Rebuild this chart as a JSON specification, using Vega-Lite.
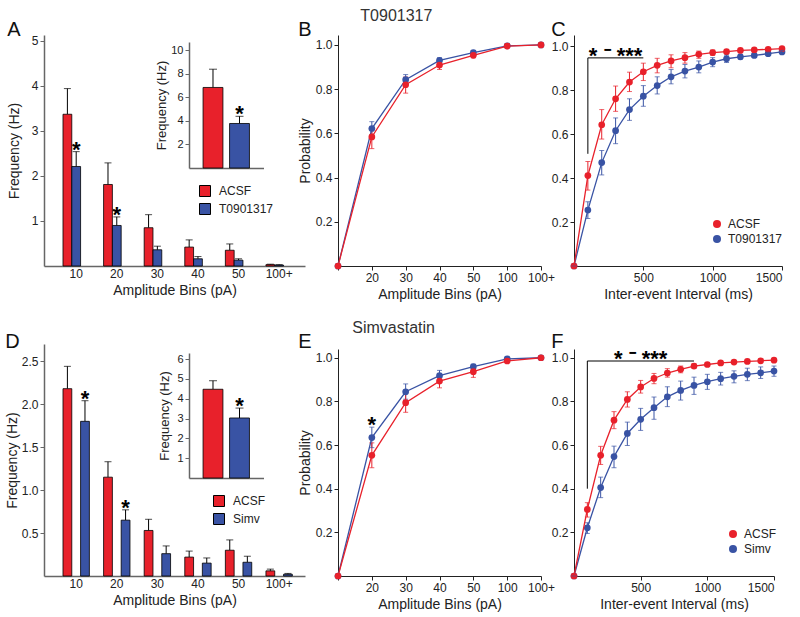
{
  "$schema": "https://vega.github.io/schema/vega-lite/v6.json",
  "padding": {"left": 5, "top": 7, "right": 5, "bottom": 5},
  "background": "white",
  "config": {
    "font": "Liberation Sans",
    "view": {"stroke": null},
    "axis": {"grid": false, "labelFontSize": 12, "titleFontSize": 14, "titleFontWeight": "normal", "labelColor": "#222", "titleColor": "#222", "domainColor": "#222", "tickColor": "#222", "tickSize": 4, "labelPadding": 2},
    "legend": {"labelFontSize": 12, "padding": 0, "labelColor": "#222"},
    "title": {"fontWeight": "normal", "color": "#111"}
  },
  "datasets": {
    "A": [
      {"bin": "10", "group": "ACSF", "value": 3.37, "err": 3.94, "sig": ""},
      {"bin": "10", "group": "T0901317", "value": 2.21, "err": 2.54, "sig": "*"},
      {"bin": "20", "group": "ACSF", "value": 1.81, "err": 2.29, "sig": ""},
      {"bin": "20", "group": "T0901317", "value": 0.9, "err": 1.09, "sig": "*"},
      {"bin": "30", "group": "ACSF", "value": 0.85, "err": 1.14, "sig": ""},
      {"bin": "30", "group": "T0901317", "value": 0.36, "err": 0.44, "sig": ""},
      {"bin": "40", "group": "ACSF", "value": 0.42, "err": 0.58, "sig": ""},
      {"bin": "40", "group": "T0901317", "value": 0.16, "err": 0.21, "sig": ""},
      {"bin": "50", "group": "ACSF", "value": 0.35, "err": 0.49, "sig": ""},
      {"bin": "50", "group": "T0901317", "value": 0.13, "err": 0.16, "sig": ""},
      {"bin": "100+", "group": "ACSF", "value": 0.03, "err": 0.04, "sig": ""},
      {"bin": "100+", "group": "T0901317", "value": 0.02, "err": 0.03, "sig": ""}
    ],
    "Ai": [
      {"group": "ACSF", "value": 6.84, "err": 8.39, "sig": ""},
      {"group": "T0901317", "value": 3.78, "err": 4.39, "sig": "*"}
    ],
    "D": [
      {"bin": "10", "group": "ACSF", "value": 2.18, "err": 2.44, "sig": ""},
      {"bin": "10", "group": "Simv", "value": 1.8, "err": 2.04, "sig": "*"},
      {"bin": "20", "group": "ACSF", "value": 1.15, "err": 1.33, "sig": ""},
      {"bin": "20", "group": "Simv", "value": 0.65, "err": 0.77, "sig": "*"},
      {"bin": "30", "group": "ACSF", "value": 0.53, "err": 0.66, "sig": ""},
      {"bin": "30", "group": "Simv", "value": 0.26, "err": 0.35, "sig": ""},
      {"bin": "40", "group": "ACSF", "value": 0.22, "err": 0.29, "sig": ""},
      {"bin": "40", "group": "Simv", "value": 0.15, "err": 0.21, "sig": ""},
      {"bin": "50", "group": "ACSF", "value": 0.3, "err": 0.42, "sig": ""},
      {"bin": "50", "group": "Simv", "value": 0.16, "err": 0.23, "sig": ""},
      {"bin": "100+", "group": "ACSF", "value": 0.06, "err": 0.08, "sig": ""},
      {"bin": "100+", "group": "Simv", "value": 0.02, "err": 0.03, "sig": ""}
    ],
    "Di": [
      {"group": "ACSF", "value": 4.48, "err": 4.91, "sig": ""},
      {"group": "Simv", "value": 3.03, "err": 3.53, "sig": "*"}
    ],
    "B": [
      {"bin": "0", "group": "T0901317", "value": 0, "lo": 0, "hi": 0},
      {"bin": "20", "group": "T0901317", "value": 0.622, "lo": 0.59, "hi": 0.653},
      {"bin": "30", "group": "T0901317", "value": 0.843, "lo": 0.82, "hi": 0.866},
      {"bin": "40", "group": "T0901317", "value": 0.93, "lo": 0.918, "hi": 0.942},
      {"bin": "50", "group": "T0901317", "value": 0.965, "lo": 0.958, "hi": 0.974},
      {"bin": "100", "group": "T0901317", "value": 0.996, "lo": 0.993, "hi": 0.999},
      {"bin": "100+", "group": "T0901317", "value": 1, "lo": 1, "hi": 1},
      {"bin": "0", "group": "ACSF", "value": 0, "lo": 0, "hi": 0},
      {"bin": "20", "group": "ACSF", "value": 0.584, "lo": 0.531, "hi": 0.625},
      {"bin": "30", "group": "ACSF", "value": 0.82, "lo": 0.782, "hi": 0.855},
      {"bin": "40", "group": "ACSF", "value": 0.909, "lo": 0.889, "hi": 0.928},
      {"bin": "50", "group": "ACSF", "value": 0.953, "lo": 0.942, "hi": 0.963},
      {"bin": "100", "group": "ACSF", "value": 0.995, "lo": 0.992, "hi": 0.998},
      {"bin": "100+", "group": "ACSF", "value": 1, "lo": 1, "hi": 1}
    ],
    "E": [
      {"bin": "0", "group": "Simv", "value": 0, "lo": 0, "hi": 0, "sig": ""},
      {"bin": "20", "group": "Simv", "value": 0.634, "lo": 0.588, "hi": 0.682, "sig": "*"},
      {"bin": "30", "group": "Simv", "value": 0.844, "lo": 0.81, "hi": 0.88, "sig": ""},
      {"bin": "40", "group": "Simv", "value": 0.918, "lo": 0.896, "hi": 0.942, "sig": ""},
      {"bin": "50", "group": "Simv", "value": 0.959, "lo": 0.947, "hi": 0.97, "sig": ""},
      {"bin": "100", "group": "Simv", "value": 0.995, "lo": 0.991, "hi": 0.999, "sig": ""},
      {"bin": "100+", "group": "Simv", "value": 1, "lo": 1, "hi": 1, "sig": ""},
      {"bin": "0", "group": "ACSF", "value": 0, "lo": 0, "hi": 0, "sig": ""},
      {"bin": "20", "group": "ACSF", "value": 0.553, "lo": 0.496, "hi": 0.61, "sig": ""},
      {"bin": "30", "group": "ACSF", "value": 0.794, "lo": 0.75, "hi": 0.84, "sig": ""},
      {"bin": "40", "group": "ACSF", "value": 0.893, "lo": 0.862, "hi": 0.92, "sig": ""},
      {"bin": "50", "group": "ACSF", "value": 0.936, "lo": 0.91, "hi": 0.957, "sig": ""},
      {"bin": "100", "group": "ACSF", "value": 0.985, "lo": 0.978, "hi": 0.99, "sig": ""},
      {"bin": "100+", "group": "ACSF", "value": 1, "lo": 1, "hi": 1, "sig": ""}
    ],
    "C": [
      {"t": 0, "group": "T0901317", "value": 0, "lo": 0, "hi": 0},
      {"t": 100, "group": "T0901317", "value": 0.254, "lo": 0.216, "hi": 0.292},
      {"t": 200, "group": "T0901317", "value": 0.47, "lo": 0.414, "hi": 0.525},
      {"t": 300, "group": "T0901317", "value": 0.615, "lo": 0.556, "hi": 0.673},
      {"t": 400, "group": "T0901317", "value": 0.711, "lo": 0.662, "hi": 0.76},
      {"t": 500, "group": "T0901317", "value": 0.772, "lo": 0.726, "hi": 0.82},
      {"t": 600, "group": "T0901317", "value": 0.82, "lo": 0.782, "hi": 0.86},
      {"t": 700, "group": "T0901317", "value": 0.86, "lo": 0.828, "hi": 0.893},
      {"t": 800, "group": "T0901317", "value": 0.886, "lo": 0.855, "hi": 0.916},
      {"t": 900, "group": "T0901317", "value": 0.904, "lo": 0.878, "hi": 0.932},
      {"t": 1000, "group": "T0901317", "value": 0.927, "lo": 0.906, "hi": 0.947},
      {"t": 1100, "group": "T0901317", "value": 0.942, "lo": 0.925, "hi": 0.958},
      {"t": 1200, "group": "T0901317", "value": 0.951, "lo": 0.94, "hi": 0.962},
      {"t": 1300, "group": "T0901317", "value": 0.957, "lo": 0.948, "hi": 0.966},
      {"t": 1400, "group": "T0901317", "value": 0.965, "lo": 0.958, "hi": 0.972},
      {"t": 1500, "group": "T0901317", "value": 0.973, "lo": 0.966, "hi": 0.98},
      {"t": 0, "group": "ACSF", "value": 0, "lo": 0, "hi": 0},
      {"t": 100, "group": "ACSF", "value": 0.411, "lo": 0.345, "hi": 0.475},
      {"t": 200, "group": "ACSF", "value": 0.642, "lo": 0.577, "hi": 0.711},
      {"t": 300, "group": "ACSF", "value": 0.76, "lo": 0.703, "hi": 0.818},
      {"t": 400, "group": "ACSF", "value": 0.836, "lo": 0.793, "hi": 0.881},
      {"t": 500, "group": "ACSF", "value": 0.883, "lo": 0.843, "hi": 0.922},
      {"t": 600, "group": "ACSF", "value": 0.912, "lo": 0.878, "hi": 0.944},
      {"t": 700, "group": "ACSF", "value": 0.932, "lo": 0.901, "hi": 0.96},
      {"t": 800, "group": "ACSF", "value": 0.947, "lo": 0.922, "hi": 0.97},
      {"t": 900, "group": "ACSF", "value": 0.962, "lo": 0.944, "hi": 0.977},
      {"t": 1000, "group": "ACSF", "value": 0.97, "lo": 0.957, "hi": 0.982},
      {"t": 1100, "group": "ACSF", "value": 0.974, "lo": 0.965, "hi": 0.983},
      {"t": 1200, "group": "ACSF", "value": 0.98, "lo": 0.973, "hi": 0.987},
      {"t": 1300, "group": "ACSF", "value": 0.982, "lo": 0.976, "hi": 0.988},
      {"t": 1400, "group": "ACSF", "value": 0.985, "lo": 0.979, "hi": 0.99},
      {"t": 1500, "group": "ACSF", "value": 0.988, "lo": 0.982, "hi": 0.993}
    ],
    "F": [
      {"t": 0, "group": "Simv", "value": 0, "lo": 0, "hi": 0},
      {"t": 100, "group": "Simv", "value": 0.221, "lo": 0.195, "hi": 0.244},
      {"t": 200, "group": "Simv", "value": 0.405, "lo": 0.359, "hi": 0.453},
      {"t": 300, "group": "Simv", "value": 0.547, "lo": 0.496, "hi": 0.595},
      {"t": 400, "group": "Simv", "value": 0.653, "lo": 0.598, "hi": 0.705},
      {"t": 500, "group": "Simv", "value": 0.718, "lo": 0.667, "hi": 0.768},
      {"t": 600, "group": "Simv", "value": 0.771, "lo": 0.718, "hi": 0.82},
      {"t": 700, "group": "Simv", "value": 0.821, "lo": 0.776, "hi": 0.867},
      {"t": 800, "group": "Simv", "value": 0.85, "lo": 0.806, "hi": 0.893},
      {"t": 900, "group": "Simv", "value": 0.873, "lo": 0.832, "hi": 0.911},
      {"t": 1000, "group": "Simv", "value": 0.89, "lo": 0.855, "hi": 0.924},
      {"t": 1100, "group": "Simv", "value": 0.904, "lo": 0.875, "hi": 0.933},
      {"t": 1200, "group": "Simv", "value": 0.915, "lo": 0.885, "hi": 0.94},
      {"t": 1300, "group": "Simv", "value": 0.924, "lo": 0.895, "hi": 0.952},
      {"t": 1400, "group": "Simv", "value": 0.931, "lo": 0.905, "hi": 0.958},
      {"t": 1500, "group": "Simv", "value": 0.939, "lo": 0.915, "hi": 0.962},
      {"t": 0, "group": "ACSF", "value": 0, "lo": 0, "hi": 0},
      {"t": 100, "group": "ACSF", "value": 0.305, "lo": 0.27, "hi": 0.336},
      {"t": 200, "group": "ACSF", "value": 0.553, "lo": 0.511, "hi": 0.594},
      {"t": 300, "group": "ACSF", "value": 0.714, "lo": 0.675, "hi": 0.753},
      {"t": 400, "group": "ACSF", "value": 0.809, "lo": 0.774, "hi": 0.844},
      {"t": 500, "group": "ACSF", "value": 0.866, "lo": 0.838, "hi": 0.896},
      {"t": 600, "group": "ACSF", "value": 0.905, "lo": 0.881, "hi": 0.928},
      {"t": 700, "group": "ACSF", "value": 0.93, "lo": 0.911, "hi": 0.95},
      {"t": 800, "group": "ACSF", "value": 0.947, "lo": 0.931, "hi": 0.962},
      {"t": 900, "group": "ACSF", "value": 0.962, "lo": 0.951, "hi": 0.972},
      {"t": 1000, "group": "ACSF", "value": 0.969, "lo": 0.96, "hi": 0.977},
      {"t": 1100, "group": "ACSF", "value": 0.976, "lo": 0.968, "hi": 0.983},
      {"t": 1200, "group": "ACSF", "value": 0.98, "lo": 0.973, "hi": 0.987},
      {"t": 1300, "group": "ACSF", "value": 0.983, "lo": 0.977, "hi": 0.989},
      {"t": 1400, "group": "ACSF", "value": 0.986, "lo": 0.98, "hi": 0.991},
      {"t": 1500, "group": "ACSF", "value": 0.989, "lo": 0.984, "hi": 0.994}
    ],
    "Cbr": [
      {"x": 100, "x2": 100, "y": 0.51, "y2": 0.946},
      {"x": 100, "x2": 500, "y": 0.946, "y2": 0.946}
    ],
    "Ctx": [{"x": 300, "y": 0.946, "label": "* ⁻ ***"}],
    "Fbr": [
      {"x": 100, "x2": 100, "y": 0.4, "y2": 0.985},
      {"x": 100, "x2": 900, "y": 0.985, "y2": 0.985}
    ],
    "Ftx": [{"x": 500, "y": 0.985, "label": "* ⁻ ***"}]
  },
  "spacing": 19,
  "resolve": {"scale": {"color": "independent"}, "legend": {"color": "independent"}},
  "vconcat": [
    {
      "title": {"text": "T0901317", "fontSize": 16, "color": "#333", "anchor": "middle", "offset": -4},
      "spacing": 33,
      "bounds": "flush",
      "resolve": {"scale": {"color": "independent"}, "legend": {"color": "independent"}},
      "hconcat": [
        {
          "width": 261, "height": 231,
          "title": {"text": "A", "anchor": "start", "fontSize": 20, "offset": -5},
          "resolve": {"scale": {"x": "independent", "y": "independent"}, "axis": {"x": "independent", "y": "independent"}},
          "layer": [
            {
              "data": {"name": "A"},
              "encoding": {
                "x": {"field": "bin", "type": "nominal", "sort": ["10", "20", "30", "40", "50", "100+"], "scale": {"paddingInner": 0.35, "paddingOuter": 0.39, "align": 0.6}, "axis": {"title": "Amplitude Bins (pA)", "labelAngle": 0, "ticks": false, "domainColor": "#666", "domainWidth": 1.5}},
                "xOffset": {"field": "group", "type": "nominal", "sort": ["ACSF", "T0901317"]}
              },
              "layer": [
                {"mark": {"type": "rule", "color": "black", "strokeWidth": 1},
                 "encoding": {"y": {"field": "value", "type": "quantitative", "title": "Frequency (Hz)", "scale": {"domain": [0, 5.13], "nice": false}, "axis": {"values": [1, 2, 3, 4, 5], "format": "d", "titlePadding": 10, "domainColor": "#666", "domainWidth": 1.5, "tickColor": "#666"}}, "y2": {"field": "err"}}},
                {"mark": {"type": "tick", "orient": "horizontal", "size": 7, "thickness": 1, "color": "black"},
                 "encoding": {"y": {"field": "err", "type": "quantitative", "title": "Frequency (Hz)", "scale": {"domain": [0, 5.13], "nice": false}, "axis": {"values": [1, 2, 3, 4, 5], "format": "d", "titlePadding": 10, "domainColor": "#666", "domainWidth": 1.5, "tickColor": "#666"}}}},
                {"mark": {"type": "bar", "stroke": "black", "strokeWidth": 0.8},
                 "encoding": {
                   "y": {"field": "value", "type": "quantitative", "title": "Frequency (Hz)", "scale": {"domain": [0, 5.13], "nice": false}, "axis": {"values": [1, 2, 3, 4, 5], "format": "d", "titlePadding": 10, "domainColor": "#666", "domainWidth": 1.5, "tickColor": "#666"}},
                   "color": {"field": "group", "type": "nominal", "scale": {"domain": ["ACSF", "T0901317"], "range": ["#E8212B", "#3953A4"]}, "legend": {"orient": "none", "legendX": 155, "legendY": 150, "title": null, "symbolType": "square", "symbolSize": 121, "symbolStrokeColor": "black", "symbolStrokeWidth": 1, "labelFontSize": 12, "labelOffset": 8, "rowPadding": 2}}
                 }},
                {"mark": {"type": "text", "fontSize": 22, "fontWeight": "bold", "baseline": "alphabetic", "dy": 5, "color": "black"},
                 "encoding": {"y": {"field": "err", "type": "quantitative", "title": "Frequency (Hz)", "scale": {"domain": [0, 5.13], "nice": false}, "axis": {"values": [1, 2, 3, 4, 5], "format": "d", "titlePadding": 10, "domainColor": "#666", "domainWidth": 1.5, "tickColor": "#666"}}, "text": {"field": "sig"}}}
              ]
            },
            {
              "data": {"name": "Ai"},
              "encoding": {
                "x": {"field": "group", "type": "nominal", "sort": ["ACSF", "T0901317"], "scale": {"range": [145, 219.5], "paddingInner": 0.25, "paddingOuter": 0.53}, "axis": {"orient": "bottom", "offset": -98, "labels": false, "ticks": false, "title": null, "domainColor": "#666", "domainWidth": 1.5}}
              },
              "layer": [
                {"mark": {"type": "rule", "color": "black", "strokeWidth": 1},
                 "encoding": {"y": {"field": "value", "type": "quantitative", "title": "Frequency (Hz)", "scale": {"domain": [0, 10.7], "nice": false, "range": [133, 7]}, "axis": {"orient": "left", "offset": -145, "values": [2, 4, 6, 8, 10], "titleFontSize": 13, "labelFontSize": 11, "titlePadding": 2, "domainColor": "#666", "domainWidth": 1.5, "tickColor": "#666"}}, "y2": {"field": "err"}}},
                {"mark": {"type": "tick", "orient": "horizontal", "size": 8, "thickness": 1, "color": "black"},
                 "encoding": {"y": {"field": "err", "type": "quantitative", "title": "Frequency (Hz)", "scale": {"domain": [0, 10.7], "nice": false, "range": [133, 7]}}}},
                {"mark": {"type": "bar", "stroke": "black", "strokeWidth": 0.8},
                 "encoding": {
                   "y": {"field": "value", "type": "quantitative", "title": "Frequency (Hz)", "scale": {"domain": [0, 10.7], "nice": false, "range": [133, 7]}},
                   "color": {"field": "group", "type": "nominal", "scale": {"domain": ["ACSF", "T0901317"], "range": ["#E8212B", "#3953A4"]}, "legend": null}
                 }},
                {"mark": {"type": "text", "fontSize": 22, "fontWeight": "bold", "baseline": "alphabetic", "dy": 5, "color": "black"},
                 "encoding": {"y": {"field": "err", "type": "quantitative", "title": "Frequency (Hz)", "scale": {"domain": [0, 10.7], "nice": false, "range": [133, 7]}}, "text": {"field": "sig"}}}
              ]
            }
          ]
        },
        {
          "width": 203, "height": 231,
          "title": {"text": "B", "anchor": "start", "fontSize": 20, "offset": -5},
          "data": {"name": "B"},
          "encoding": {
            "x": {"field": "bin", "type": "ordinal", "sort": ["0", "20", "30", "40", "50", "100", "100+"], "scale": {"type": "point", "padding": 0}, "axis": {"title": "Amplitude Bins (pA)", "labelAngle": 0, "labelExpr": "datum.label == '0' ? '' : datum.label"}}
          },
          "layer": [
            {"mark": {"type": "rule", "strokeWidth": 1},
             "encoding": {"y": {"field": "lo", "type": "quantitative", "title": "Probability", "scale": {"domain": [0, 1.045], "nice": false}, "axis": {"values": [0.2, 0.4, 0.6, 0.8, 1.0], "format": ".1f", "titlePadding": 3}}, "y2": {"field": "hi"},
               "color": {"field": "group", "type": "nominal", "scale": {"domain": ["ACSF", "T0901317"], "range": ["#E8212B", "#3953A4"]}, "legend": null}}},
            {"mark": {"type": "tick", "orient": "horizontal", "size": 5, "thickness": 1},
             "encoding": {"y": {"field": "lo", "type": "quantitative", "title": "Probability", "scale": {"domain": [0, 1.045], "nice": false}},
               "color": {"field": "group", "type": "nominal", "scale": {"domain": ["ACSF", "T0901317"], "range": ["#E8212B", "#3953A4"]}, "legend": null}}},
            {"mark": {"type": "tick", "orient": "horizontal", "size": 5, "thickness": 1},
             "encoding": {"y": {"field": "hi", "type": "quantitative", "title": "Probability", "scale": {"domain": [0, 1.045], "nice": false}},
               "color": {"field": "group", "type": "nominal", "scale": {"domain": ["ACSF", "T0901317"], "range": ["#E8212B", "#3953A4"]}, "legend": null}}},
            {"mark": {"type": "line", "strokeWidth": 1.3},
             "encoding": {"y": {"field": "value", "type": "quantitative", "title": "Probability", "scale": {"domain": [0, 1.045], "nice": false}},
               "color": {"field": "group", "type": "nominal", "scale": {"domain": ["ACSF", "T0901317"], "range": ["#E8212B", "#3953A4"]}, "legend": null}}},
            {"mark": {"type": "point", "filled": true, "size": 45, "opacity": 1},
             "encoding": {"y": {"field": "value", "type": "quantitative", "title": "Probability", "scale": {"domain": [0, 1.045], "nice": false}},
               "color": {"field": "group", "type": "nominal", "scale": {"domain": ["ACSF", "T0901317"], "range": ["#E8212B", "#3953A4"]}, "legend": null}}}
          ]
        },
        {
          "width": 208, "height": 231,
          "title": {"text": "C", "anchor": "start", "fontSize": 20, "offset": -5},
          "layer": [
            {
              "data": {"name": "C"},
              "encoding": {
                "x": {"field": "t", "type": "quantitative", "title": "Inter-event Interval (ms)", "scale": {"domain": [0, 1500], "nice": false}, "axis": {"values": [500, 1000, 1500], "format": "d"}}
              },
              "layer": [
                {"mark": {"type": "point", "filled": true, "size": 45, "opacity": 1},
                 "encoding": {"y": {"field": "value", "type": "quantitative", "title": null, "scale": {"domain": [0, 1.05], "nice": false}, "axis": {"values": [0.2, 0.4, 0.6, 0.8, 1.0], "format": ".1f"}},
                   "color": {"field": "group", "type": "nominal", "scale": {"domain": ["ACSF", "T0901317"], "range": ["#E8212B", "#3953A4"]}, "legend": {"orient": "none", "legendX": 137, "legendY": 183, "title": null, "symbolType": "circle", "symbolSize": 64, "symbolStrokeWidth": 0, "labelFontSize": 12, "labelOffset": 5, "rowPadding": 3}}}},
                {"mark": {"type": "rule", "strokeWidth": 1},
                 "encoding": {"y": {"field": "lo", "type": "quantitative", "title": null, "scale": {"domain": [0, 1.05], "nice": false}}, "y2": {"field": "hi"},
                   "color": {"field": "group", "type": "nominal", "scale": {"domain": ["ACSF", "T0901317"], "range": ["#E8212B", "#3953A4"]}, "legend": null}}},
                {"mark": {"type": "tick", "orient": "horizontal", "size": 5, "thickness": 1},
                 "encoding": {"y": {"field": "lo", "type": "quantitative", "title": null, "scale": {"domain": [0, 1.05], "nice": false}},
                   "color": {"field": "group", "type": "nominal", "scale": {"domain": ["ACSF", "T0901317"], "range": ["#E8212B", "#3953A4"]}, "legend": null}}},
                {"mark": {"type": "tick", "orient": "horizontal", "size": 5, "thickness": 1},
                 "encoding": {"y": {"field": "hi", "type": "quantitative", "title": null, "scale": {"domain": [0, 1.05], "nice": false}},
                   "color": {"field": "group", "type": "nominal", "scale": {"domain": ["ACSF", "T0901317"], "range": ["#E8212B", "#3953A4"]}, "legend": null}}},
                {"mark": {"type": "line", "strokeWidth": 1.3},
                 "encoding": {"y": {"field": "value", "type": "quantitative", "title": null, "scale": {"domain": [0, 1.05], "nice": false}},
                   "color": {"field": "group", "type": "nominal", "scale": {"domain": ["ACSF", "T0901317"], "range": ["#E8212B", "#3953A4"]}, "legend": null}}}
              ]
            },
            {
              "data": {"name": "Cbr"},
              "mark": {"type": "rule", "color": "black", "strokeWidth": 1},
              "encoding": {
                "x": {"field": "x", "type": "quantitative", "scale": {"domain": [0, 1500], "nice": false}},
                "x2": {"field": "x2"},
                "y": {"field": "y", "type": "quantitative", "title": null, "scale": {"domain": [0, 1.05], "nice": false}},
                "y2": {"field": "y2"}
              }
            },
            {
              "data": {"name": "Ctx"},
              "mark": {"type": "text", "fontSize": 22, "fontWeight": "bold", "baseline": "alphabetic", "dy": 5, "color": "black"},
              "encoding": {
                "x": {"field": "x", "type": "quantitative", "scale": {"domain": [0, 1500], "nice": false}},
                "y": {"field": "y", "type": "quantitative", "title": null, "scale": {"domain": [0, 1.05], "nice": false}},
                "text": {"field": "label"}
              }
            }
          ]
        }
      ]
    },
    {
      "title": {"text": "Simvastatin", "fontSize": 16, "color": "#333", "anchor": "middle", "offset": -4},
      "spacing": 33,
      "bounds": "flush",
      "resolve": {"scale": {"color": "independent"}, "legend": {"color": "independent"}},
      "hconcat": [
        {
          "width": 261, "height": 232,
          "title": {"text": "D", "anchor": "start", "fontSize": 20, "offset": -8},
          "resolve": {"scale": {"x": "independent", "y": "independent"}, "axis": {"x": "independent", "y": "independent"}},
          "layer": [
            {
              "data": {"name": "D"},
              "encoding": {
                "x": {"field": "bin", "type": "nominal", "sort": ["10", "20", "30", "40", "50", "100+"], "scale": {"paddingInner": 0.35, "paddingOuter": 0.39, "align": 0.6}, "axis": {"title": "Amplitude Bins (pA)", "labelAngle": 0, "ticks": false, "domainColor": "#666", "domainWidth": 1.5}},
                "xOffset": {"field": "group", "type": "nominal", "sort": ["ACSF", "Simv"]}
              },
              "layer": [
                {"mark": {"type": "rule", "color": "black", "strokeWidth": 1},
                 "encoding": {"y": {"field": "value", "type": "quantitative", "title": "Frequency (Hz)", "scale": {"domain": [0, 2.7], "nice": false}, "axis": {"values": [0.5, 1.0, 1.5, 2.0, 2.5], "format": ".1f", "titlePadding": 2, "domainColor": "#666", "domainWidth": 1.5, "tickColor": "#666"}}, "y2": {"field": "err"}}},
                {"mark": {"type": "tick", "orient": "horizontal", "size": 7, "thickness": 1, "color": "black"},
                 "encoding": {"y": {"field": "err", "type": "quantitative", "title": "Frequency (Hz)", "scale": {"domain": [0, 2.7], "nice": false}, "axis": {"values": [0.5, 1.0, 1.5, 2.0, 2.5], "format": ".1f", "titlePadding": 2, "domainColor": "#666", "domainWidth": 1.5, "tickColor": "#666"}}}},
                {"mark": {"type": "bar", "stroke": "black", "strokeWidth": 0.8},
                 "encoding": {
                   "y": {"field": "value", "type": "quantitative", "title": "Frequency (Hz)", "scale": {"domain": [0, 2.7], "nice": false}, "axis": {"values": [0.5, 1.0, 1.5, 2.0, 2.5], "format": ".1f", "titlePadding": 2, "domainColor": "#666", "domainWidth": 1.5, "tickColor": "#666"}},
                   "color": {"field": "group", "type": "nominal", "scale": {"domain": ["ACSF", "Simv"], "range": ["#E8212B", "#3953A4"]}, "legend": {"orient": "none", "legendX": 169, "legendY": 151, "title": null, "symbolType": "square", "symbolSize": 121, "symbolStrokeColor": "black", "symbolStrokeWidth": 1, "labelFontSize": 12, "labelOffset": 8, "rowPadding": 2}}
                 }},
                {"mark": {"type": "text", "fontSize": 22, "fontWeight": "bold", "baseline": "alphabetic", "dy": 5, "color": "black"},
                 "encoding": {"y": {"field": "err", "type": "quantitative", "title": "Frequency (Hz)", "scale": {"domain": [0, 2.7], "nice": false}, "axis": {"values": [0.5, 1.0, 1.5, 2.0, 2.5], "format": ".1f", "titlePadding": 2, "domainColor": "#666", "domainWidth": 1.5, "tickColor": "#666"}}, "text": {"field": "sig"}}}
              ]
            },
            {
              "data": {"name": "Di"},
              "encoding": {
                "x": {"field": "group", "type": "nominal", "sort": ["ACSF", "Simv"], "scale": {"range": [145, 219.5], "paddingInner": 0.25, "paddingOuter": 0.53}, "axis": {"orient": "bottom", "offset": -98, "labels": false, "ticks": false, "title": null, "domainColor": "#666", "domainWidth": 1.5}}
              },
              "layer": [
                {"mark": {"type": "rule", "color": "black", "strokeWidth": 1},
                 "encoding": {"y": {"field": "value", "type": "quantitative", "title": "Frequency (Hz)", "scale": {"domain": [0, 6.31], "nice": false, "range": [134, 9]}, "axis": {"orient": "left", "offset": -145, "values": [1, 2, 3, 4, 5, 6], "titleFontSize": 13, "labelFontSize": 11, "titlePadding": 5, "domainColor": "#666", "domainWidth": 1.5, "tickColor": "#666"}}, "y2": {"field": "err"}}},
                {"mark": {"type": "tick", "orient": "horizontal", "size": 8, "thickness": 1, "color": "black"},
                 "encoding": {"y": {"field": "err", "type": "quantitative", "title": "Frequency (Hz)", "scale": {"domain": [0, 6.31], "nice": false, "range": [134, 9]}}}},
                {"mark": {"type": "bar", "stroke": "black", "strokeWidth": 0.8},
                 "encoding": {
                   "y": {"field": "value", "type": "quantitative", "title": "Frequency (Hz)", "scale": {"domain": [0, 6.31], "nice": false, "range": [134, 9]}},
                   "color": {"field": "group", "type": "nominal", "scale": {"domain": ["ACSF", "Simv"], "range": ["#E8212B", "#3953A4"]}, "legend": null}
                 }},
                {"mark": {"type": "text", "fontSize": 22, "fontWeight": "bold", "baseline": "alphabetic", "dy": 5, "color": "black"},
                 "encoding": {"y": {"field": "err", "type": "quantitative", "title": "Frequency (Hz)", "scale": {"domain": [0, 6.31], "nice": false, "range": [134, 9]}}, "text": {"field": "sig"}}}
              ]
            }
          ]
        },
        {
          "width": 203, "height": 232,
          "title": {"text": "E", "anchor": "start", "fontSize": 20, "offset": -8},
          "data": {"name": "E"},
          "encoding": {
            "x": {"field": "bin", "type": "ordinal", "sort": ["0", "20", "30", "40", "50", "100", "100+"], "scale": {"type": "point", "padding": 0}, "axis": {"title": "Amplitude Bins (pA)", "labelAngle": 0, "labelExpr": "datum.label == '0' ? '' : datum.label"}}
          },
          "layer": [
            {"mark": {"type": "rule", "strokeWidth": 1},
             "encoding": {"y": {"field": "lo", "type": "quantitative", "title": "Probability", "scale": {"domain": [0, 1.04], "nice": false, "range": [232, 5]}, "axis": {"values": [0.2, 0.4, 0.6, 0.8, 1.0], "format": ".1f", "titlePadding": 3}}, "y2": {"field": "hi"},
               "color": {"field": "group", "type": "nominal", "scale": {"domain": ["ACSF", "Simv"], "range": ["#E8212B", "#3953A4"]}, "legend": null}}},
            {"mark": {"type": "tick", "orient": "horizontal", "size": 5, "thickness": 1},
             "encoding": {"y": {"field": "lo", "type": "quantitative", "title": "Probability", "scale": {"domain": [0, 1.04], "nice": false, "range": [232, 5]}},
               "color": {"field": "group", "type": "nominal", "scale": {"domain": ["ACSF", "Simv"], "range": ["#E8212B", "#3953A4"]}, "legend": null}}},
            {"mark": {"type": "tick", "orient": "horizontal", "size": 5, "thickness": 1},
             "encoding": {"y": {"field": "hi", "type": "quantitative", "title": "Probability", "scale": {"domain": [0, 1.04], "nice": false, "range": [232, 5]}},
               "color": {"field": "group", "type": "nominal", "scale": {"domain": ["ACSF", "Simv"], "range": ["#E8212B", "#3953A4"]}, "legend": null}}},
            {"mark": {"type": "line", "strokeWidth": 1.3},
             "encoding": {"y": {"field": "value", "type": "quantitative", "title": "Probability", "scale": {"domain": [0, 1.04], "nice": false, "range": [232, 5]}},
               "color": {"field": "group", "type": "nominal", "scale": {"domain": ["ACSF", "Simv"], "range": ["#E8212B", "#3953A4"]}, "legend": null}}},
            {"mark": {"type": "point", "filled": true, "size": 45, "opacity": 1},
             "encoding": {"y": {"field": "value", "type": "quantitative", "title": "Probability", "scale": {"domain": [0, 1.04], "nice": false, "range": [232, 5]}},
               "color": {"field": "group", "type": "nominal", "scale": {"domain": ["ACSF", "Simv"], "range": ["#E8212B", "#3953A4"]}, "legend": null}}},
            {"mark": {"type": "text", "fontSize": 22, "fontWeight": "bold", "baseline": "alphabetic", "dy": 5, "color": "black"},
             "encoding": {"y": {"field": "hi", "type": "quantitative", "title": "Probability", "scale": {"domain": [0, 1.04], "nice": false, "range": [232, 5]}}, "text": {"field": "sig"}}}
          ]
        },
        {
          "width": 208, "height": 232,
          "title": {"text": "F", "anchor": "start", "fontSize": 20, "offset": -8},
          "layer": [
            {
              "data": {"name": "F"},
              "encoding": {
                "x": {"field": "t", "type": "quantitative", "title": "Inter-event Interval (ms)", "scale": {"domain": [0, 1500], "nice": false, "range": [0, 200]}, "axis": {"values": [500, 1000, 1500], "format": "d"}}
              },
              "layer": [
                {"mark": {"type": "point", "filled": true, "size": 45, "opacity": 1},
                 "encoding": {"y": {"field": "value", "type": "quantitative", "title": null, "scale": {"domain": [0, 1.04], "nice": false, "range": [232, 5]}, "axis": {"values": [0.2, 0.4, 0.6, 0.8, 1.0], "format": ".1f"}},
                   "color": {"field": "group", "type": "nominal", "scale": {"domain": ["ACSF", "Simv"], "range": ["#E8212B", "#3953A4"]}, "legend": {"orient": "none", "legendX": 153, "legendY": 184, "title": null, "symbolType": "circle", "symbolSize": 64, "symbolStrokeWidth": 0, "labelFontSize": 12, "labelOffset": 5, "rowPadding": 3}}}},
                {"mark": {"type": "rule", "strokeWidth": 1},
                 "encoding": {"y": {"field": "lo", "type": "quantitative", "title": null, "scale": {"domain": [0, 1.04], "nice": false, "range": [232, 5]}}, "y2": {"field": "hi"},
                   "color": {"field": "group", "type": "nominal", "scale": {"domain": ["ACSF", "Simv"], "range": ["#E8212B", "#3953A4"]}, "legend": null}}},
                {"mark": {"type": "tick", "orient": "horizontal", "size": 5, "thickness": 1},
                 "encoding": {"y": {"field": "lo", "type": "quantitative", "title": null, "scale": {"domain": [0, 1.04], "nice": false, "range": [232, 5]}},
                   "color": {"field": "group", "type": "nominal", "scale": {"domain": ["ACSF", "Simv"], "range": ["#E8212B", "#3953A4"]}, "legend": null}}},
                {"mark": {"type": "tick", "orient": "horizontal", "size": 5, "thickness": 1},
                 "encoding": {"y": {"field": "hi", "type": "quantitative", "title": null, "scale": {"domain": [0, 1.04], "nice": false, "range": [232, 5]}},
                   "color": {"field": "group", "type": "nominal", "scale": {"domain": ["ACSF", "Simv"], "range": ["#E8212B", "#3953A4"]}, "legend": null}}},
                {"mark": {"type": "line", "strokeWidth": 1.3},
                 "encoding": {"y": {"field": "value", "type": "quantitative", "title": null, "scale": {"domain": [0, 1.04], "nice": false, "range": [232, 5]}},
                   "color": {"field": "group", "type": "nominal", "scale": {"domain": ["ACSF", "Simv"], "range": ["#E8212B", "#3953A4"]}, "legend": null}}}
              ]
            },
            {
              "data": {"name": "Fbr"},
              "mark": {"type": "rule", "color": "black", "strokeWidth": 1},
              "encoding": {
                "x": {"field": "x", "type": "quantitative", "scale": {"domain": [0, 1500], "nice": false, "range": [0, 200]}},
                "x2": {"field": "x2"},
                "y": {"field": "y", "type": "quantitative", "title": null, "scale": {"domain": [0, 1.04], "nice": false, "range": [232, 5]}},
                "y2": {"field": "y2"}
              }
            },
            {
              "data": {"name": "Ftx"},
              "mark": {"type": "text", "fontSize": 22, "fontWeight": "bold", "baseline": "alphabetic", "dy": 5, "color": "black"},
              "encoding": {
                "x": {"field": "x", "type": "quantitative", "scale": {"domain": [0, 1500], "nice": false, "range": [0, 200]}},
                "y": {"field": "y", "type": "quantitative", "title": null, "scale": {"domain": [0, 1.04], "nice": false, "range": [232, 5]}},
                "text": {"field": "label"}
              }
            }
          ]
        }
      ]
    }
  ]
}
